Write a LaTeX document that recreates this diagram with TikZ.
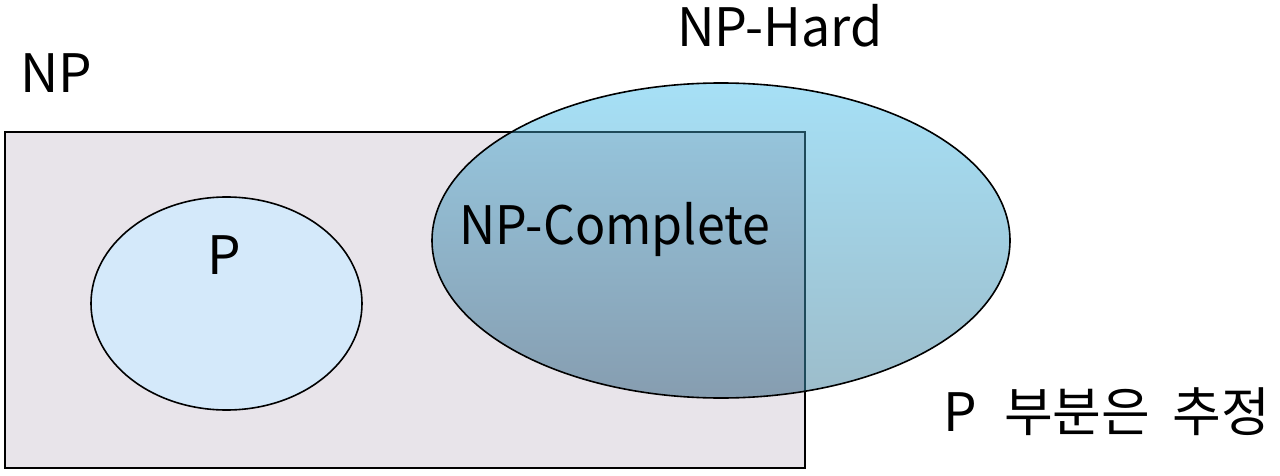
\documentclass[tikz,border=0pt]{standalone}
\usepackage{fontspec}
\setmainfont{Noto Sans CJK KR}
\definecolor{rectfill}{HTML}{E8E4EA}
\definecolor{pfill}{HTML}{D4E9FA}
\definecolor{hardtop}{HTML}{A6E0F6}
\definecolor{hardbot}{HTML}{9CBCCA}
\definecolor{comptop}{HTML}{98CBE3}
\definecolor{compbot}{HTML}{869DB0}
\definecolor{edgeteal}{HTML}{1E4A5A}
\tikzset{
  lbl/.style={anchor=base, inner sep=0pt, font=\fontsize{53}{60}\selectfont, text=black},
  outline/.style={draw=black, line width=1.6pt},
}
\begin{document}
\begin{tikzpicture}[x=1pt, y=-1pt]
\useasboundingbox (0,0) rectangle (1280,476);
% NP rectangle
\fill[rectfill] (5,132) rectangle (805,468);
% P ellipse
\draw[outline, fill=pfill] (226.5,303.5) ellipse [x radius=135.5pt, y radius=106.5pt];
% NP-Hard ellipse (outside part)
\shade[top color=hardtop, bottom color=hardbot] (721,240.5) ellipse [x radius=289pt, y radius=157.5pt];
% overlap with NP (NP-Complete)
\begin{scope}
  \clip (5,132) rectangle (805,468);
  \shade[top color=comptop, bottom color=compbot] (721,240.5) ellipse [x radius=289pt, y radius=157.5pt];
\end{scope}
\draw[black, line width=1.5pt] (5,132) rectangle (805,468);
\begin{scope}
  \clip (721,240.5) ellipse [x radius=289pt, y radius=157.5pt];
  \draw[edgeteal, line width=1.5pt] (5,132) rectangle (805,468);
\end{scope}
\draw[outline] (721,240.5) ellipse [x radius=289pt, y radius=157.5pt];
% labels
\node[lbl] (np) at (56,93) {NP};
\node[lbl, xscale=0.98] (nphard) at (780,47) {NP-Hard};
\node[lbl, xscale=0.945] (npc) at (615,244) {NP-Complete};
\node[lbl] (p) at (224.5,274) {P};
\node[lbl] (note) at (1107,431) {P\hspace{0.5em}부분은\hspace{0.42em}추정};
\end{tikzpicture}
\end{document}
